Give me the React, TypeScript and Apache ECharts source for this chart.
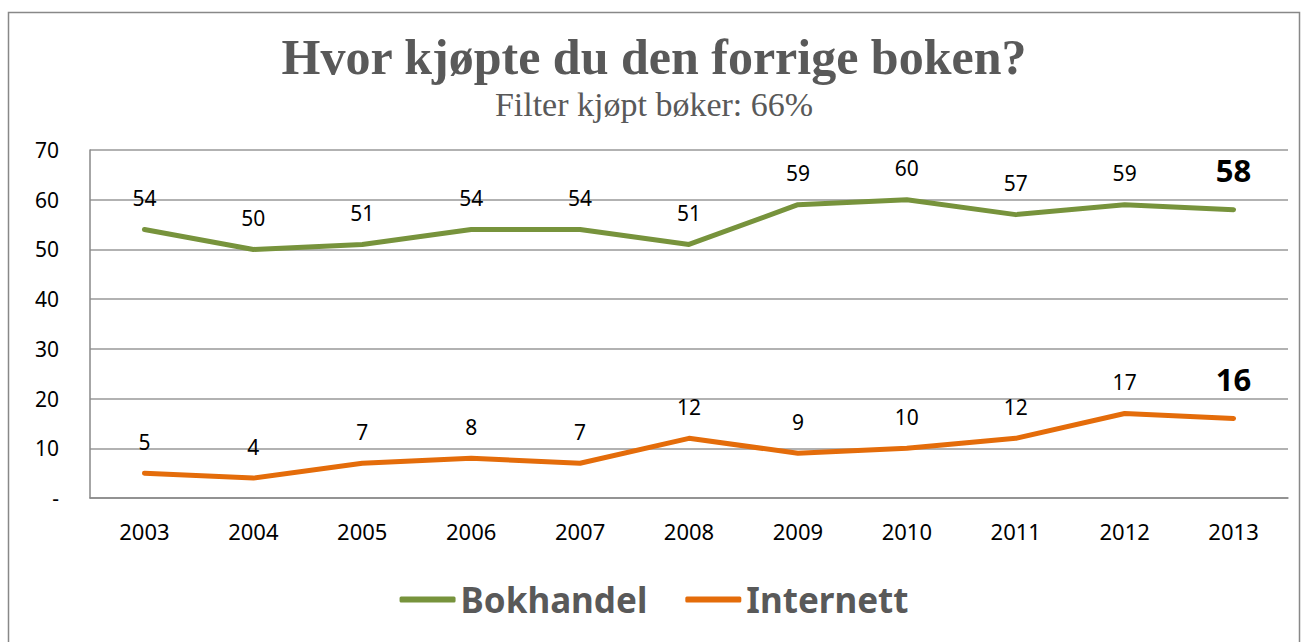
import React, { useEffect, useRef } from "react";
import * as echarts from "echarts";

const years = ["2003", "2004", "2005", "2006", "2007", "2008", "2009", "2010", "2011", "2012", "2013"];
const bokhandel = [54, 50, 51, 54, 54, 51, 59, 60, 57, 59, 58];
const internett = [5, 4, 7, 8, 7, 12, 9, 10, 12, 17, 16];
const seriesNames = ["Bokhandel", "Internett"];
const titleText = "Hvor kjøpte du den forrige boken?";
const subtitleText = "Filter kjøpt bøker: 66%";

const GREEN = "#77933C";
const ORANGE = "#E46C0A";
const FONT = "'Noto Sans', 'Open Sans', sans-serif";

function buildData(vals: number[]) {
  return vals.map((v, i) =>
    i === vals.length - 1
      ? { value: v, label: { fontSize: 31, fontWeight: "bold", distance: 24 } }
      : v
  );
}

export default function App() {
  const ref = useRef<HTMLDivElement>(null);
  useEffect(() => {
    document.body.style.margin = "0";
    const chart = echarts.init(ref.current!, null, { renderer: "svg" });
    const lineSeries = (name: string, vals: number[], color: string) => ({
      name,
      type: "line",
      data: buildData(vals),
      symbol: "circle",
      symbolSize: 0.1,
      showSymbol: true,
      lineStyle: { color, width: 5, cap: "round", join: "round" },
      itemStyle: { color },
      label: {
        show: true,
        position: "top",
        distance: 21,
        color: "#000",
        fontSize: 21,
        fontFamily: FONT,
      },
    });
    chart.setOption({
      animation: false,
      backgroundColor: "#fff",
      title: [
        {
          text: titleText,
          left: "center",
          top: 27,
          textStyle: {
            fontFamily: "'Liberation Serif', serif",
            fontWeight: "bold",
            fontSize: 50,
            color: "#595959",
          },
        },
        {
          text: subtitleText,
          left: "center",
          top: 82,
          textStyle: {
            fontFamily: "'Liberation Serif', serif",
            fontWeight: "normal",
            fontSize: 34,
            color: "#595959",
          },
        },
      ],
      graphic: [
        {
          type: "rect",
          shape: { x: 8.5, y: 12.5, width: 1291, height: 640 },
          style: { fill: "none", stroke: "#888", lineWidth: 1.5 },
          silent: true,
        },
      ],
      legend: {
        data: seriesNames.map((n) => ({ name: n, icon: "roundRect" })),
        bottom: 20,
        left: "center",
        itemWidth: 56,
        itemHeight: 6,
        itemGap: 38,
        textStyle: {
          fontFamily: FONT,
          fontWeight: "bold",
          fontSize: 35,
          color: "#595959",
        },
      },
      grid: { left: 90, right: 20, top: 150, bottom: 144, containLabel: false },
      xAxis: {
        type: "category",
        data: years,
        boundaryGap: true,
        axisLine: { show: true, lineStyle: { color: "#888", width: 1.5 } },
        axisTick: { show: false },
        axisLabel: { color: "#000", fontSize: 22, fontFamily: FONT, margin: 22 },
      },
      yAxis: {
        type: "value",
        min: 0,
        max: 70,
        interval: 10,
        axisLine: { show: true, lineStyle: { color: "#888", width: 1.5 } },
        axisTick: { show: false },
        splitLine: { show: true, lineStyle: { color: "#999", width: 1.5 } },
        axisLabel: {
          color: "#000",
          fontSize: 21,
          fontFamily: FONT,
          margin: 31,
          formatter: (v: number) => (v === 0 ? "-" : String(v)),
        },
      },
      series: [
        lineSeries(seriesNames[0], bokhandel, GREEN),
        lineSeries(seriesNames[1], internett, ORANGE),
      ],
    });
    return () => chart.dispose();
  }, []);
  return <div ref={ref} style={{ width: 1308, height: 642 }} />;
}
